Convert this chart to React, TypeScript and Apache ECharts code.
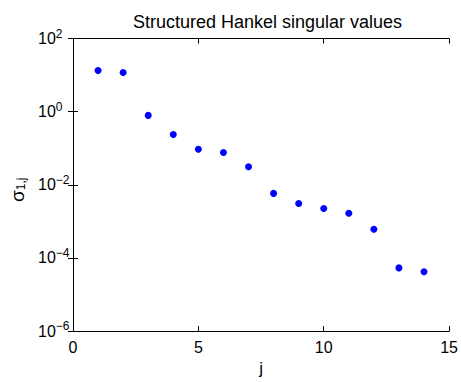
import React, { useEffect, useRef } from "react";
import * as echarts from "echarts";

const jValues = [1, 2, 3, 4, 5, 6, 7, 8, 9, 10, 11, 12, 13, 14];
const sigmaValues = [
  13.3, 11.8, 0.79, 0.236, 0.094, 0.0767, 0.0311, 0.00582, 0.00308, 0.00226,
  0.00167, 0.000612, 5.35e-5, 4.19e-5,
];
const xTicks = [0, 5, 10, 15];
const titleText = "Structured Hankel singular values";

const FONT = "'Liberation Sans', Arial, Helvetica, sans-serif";

export default function App() {
  const ref = useRef<HTMLDivElement>(null);
  useEffect(() => {
    if (!ref.current) return;
    const chart = echarts.init(ref.current, undefined, { renderer: "svg" });
    const expLabel = (v: number) => {
      const e = Math.round(Math.log10(v));
      const s = e < 0 ? "\u2212" + Math.abs(e) : String(e);
      return `{b|10}{s|${s}}`;
    };
    const rich = {
      b: { fontSize: 16, fontFamily: FONT, color: "#000", lineHeight: 22, verticalAlign: "middle" },
      s: { fontSize: 12, fontFamily: FONT, color: "#000", lineHeight: 12, verticalAlign: "top" },
    };
    const axisLine = { show: true, lineStyle: { color: "#000", width: 1 } };
    const axisTick = { show: true, inside: true, length: 5, lineStyle: { color: "#000", width: 1 } };
    chart.setOption({
      animation: false,
      backgroundColor: "#fff",
      title: {
        text: titleText,
        left: 262.5,
        textAlign: "center",
        top: 8,
        textStyle: { fontSize: 18, fontWeight: "normal", fontFamily: FONT, color: "#000" },
      },
      grid: { left: 73, right: 9, top: 38.5, bottom: 43.3, containLabel: false },
      xAxis: [
        {
          type: "value",
          min: 0,
          max: 15,
          interval: 5,
          axisLine,
          axisTick,
          splitLine: { show: false },
          axisLabel: {
            margin: 8,
            fontSize: 16,
            fontFamily: FONT,
            color: "#000",
            formatter: (v: number) => (xTicks.includes(v) ? String(v) : ""),
          },
          name: "j",
          nameLocation: "middle",
          nameGap: 24,
          nameTextStyle: { fontSize: 17, fontFamily: FONT, color: "#000" },
        },
        {
          type: "value",
          position: "top",
          min: 0,
          max: 15,
          interval: 5,
          axisLine,
          axisTick,
          splitLine: { show: false },
          axisLabel: { show: false },
        },
      ],
      yAxis: [
        {
          type: "log",
          logBase: 10,
          min: 1e-6,
          max: 1e2,
          interval: 2,
          axisLine,
          axisTick,
          minorTick: { show: false },
          splitLine: { show: false },
          axisLabel: {
            align: "left",
            margin: 35,
            formatter: expLabel,
            rich,
          },
          name: "{a|\u03c3}{s|1,j}",
          nameLocation: "middle",
          nameRotate: 90,
          nameGap: 46,
          nameTextStyle: {
            padding: [0, 10, 0, 0],
            rich: {
              a: { fontSize: 19, fontFamily: FONT, color: "#000", verticalAlign: "middle" },
              s: { fontSize: 12, fontFamily: FONT, color: "#000", verticalAlign: "bottom" },
            },
          },
        },
        {
          type: "log",
          logBase: 10,
          position: "right",
          min: 1e-6,
          max: 1e2,
          interval: 2,
          axisLine,
          axisTick,
          splitLine: { show: false },
          axisLabel: { show: false },
        },
      ],
      series: [
        {
          type: "scatter",
          symbol: "circle",
          symbolSize: 7,
          itemStyle: { color: "#0000ff", opacity: 1 },
          data: jValues.map((j, i) => [j, sigmaValues[i]]),
        },
      ],
    });
    return () => chart.dispose();
  }, []);
  return <div ref={ref} style={{ width: 461, height: 382, position: "absolute", left: 0, top: 0 }} />;
}
